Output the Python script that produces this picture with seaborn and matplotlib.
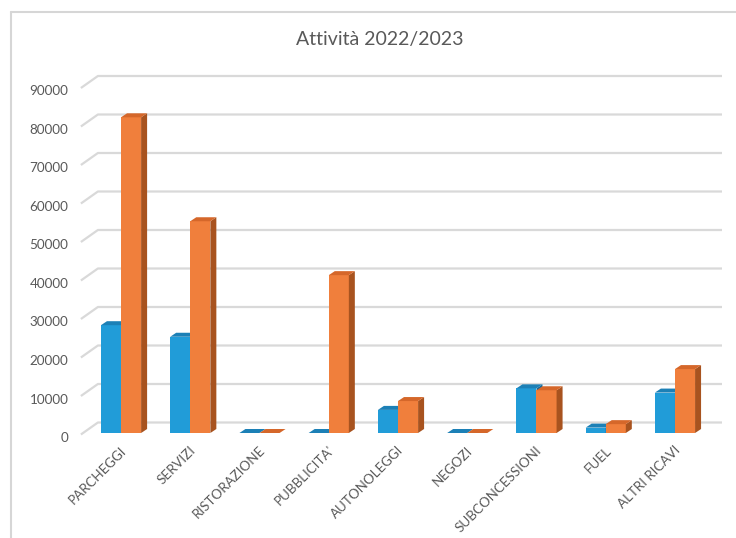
import matplotlib
matplotlib.use("Agg")
import matplotlib.pyplot as plt
from matplotlib.patches import Polygon
from matplotlib.lines import Line2D
from matplotlib.transforms import ScaledTranslation
import seaborn as sns
import pandas as pd

# Revenue by activity, two seasons
categories = ["PARCHEGGI", "SERVIZI", "RISTORAZIONE", "PUBBLICITA'", "AUTONOLEGGI",
              "NEGOZI", "SUBCONCESSIONI", "FUEL", "ALTRI RICAVI"]
series_names = ["2022", "2023"]
values_2022 = [28000, 25000, 0, 0, 6000, 0, 11600, 1400, 10500]
values_2023 = [82000, 55000, 0, 41000, 8300, 0, 11100, 2300, 16600]
y_ticks = [0, 10000, 20000, 30000, 40000, 50000, 60000, 70000, 80000, 90000]
title = "Attività 2022/2023"

front_colors = ["#219cd8", "#f07f3c"]
top_colors = ["#1c80b6", "#d5672a"]
side_colors = ["#17699a", "#a8531f"]
text_color = "#595959"
grid_color = "#d9d9d9"

df = pd.DataFrame({
    "categoria": categories * 2,
    "anno": [series_names[0]] * len(categories) + [series_names[1]] * len(categories),
    "valore": values_2022 + values_2023,
})

sns.set_theme(style="white")
plt.rcParams["font.family"] = ["Lato", "DejaVu Sans"]

W, H, DPI = 736, 538, 100
fig = plt.figure(figsize=(W / DPI, H / DPI), dpi=DPI)
ax_left, ax_bottom, ax_w, ax_h = 86.4 / W, (H - 433) / H, 623.2 / W, 346.5 / H
ax = fig.add_axes([ax_left, ax_bottom, ax_w, ax_h])

sns.barplot(data=df, x="categoria", y="valore", hue="anno", order=categories,
            hue_order=series_names, palette=front_colors, width=0.58, gap=0,
            saturation=1, legend=False, ax=ax)

ax.set_xlim(-0.5, len(categories) - 0.5)
ax.set_ylim(0, 90000)

# pixel -> data unit conversions
px_x = len(categories) / (ax_w * W)
px_y = 90000 / (ax_h * H)

# 3D bar depth (pixels)
bdx, bdy = 6 * px_x, 4 * px_y
for i, bar_container in enumerate(ax.containers):
    for p in bar_container:
        x0 = p.get_x()
        x1 = x0 + p.get_width()
        h = p.get_height()
        z = 3 + i
        p.set_zorder(z)
        p.set_edgecolor("none")
        top = Polygon([(x0, h), (x1, h), (x1 + bdx, h + bdy), (x0 + bdx, h + bdy)],
                      closed=True, facecolor=top_colors[i], edgecolor="none", zorder=z)
        side = Polygon([(x1, 0), (x1, h), (x1 + bdx, h + bdy), (x1 + bdx, bdy)],
                       closed=True, facecolor=side_colors[i], edgecolor="none", zorder=z)
        ax.add_patch(side)
        ax.add_patch(top)

# back wall gridlines with slanted floor/side connector
gdx, gdy = 17 * px_x, 10.5 * px_y
x_front = -0.5 - 5.5 * px_x
x_end = -0.5 + (722 - 86.4) * px_x
for v in y_ticks:
    ax.add_line(Line2D([x_front, x_front + gdx, x_end], [v - 1.5 * px_y, v + gdy, v + gdy],
                       color=grid_color, lw=1.6, zorder=1, clip_on=False,
                       solid_capstyle="butt"))

ax.set_yticks(y_ticks)
ax.set_yticklabels([str(t) for t in y_ticks])
ax.tick_params(axis="y", length=0, pad=13, labelsize=9.7, labelcolor=text_color)
ax.tick_params(axis="x", length=0, pad=13, labelsize=9.6, labelcolor=text_color)
ax.set_xticks(range(len(categories)))
ax.set_xticklabels(categories, rotation=45, ha="right", va="top", rotation_mode="anchor")
shift_x = ScaledTranslation(-1 / DPI, 7 / DPI, fig.dpi_scale_trans)
for lbl in ax.get_xticklabels():
    lbl.set_transform(lbl.get_transform() + shift_x)
shift_y = ScaledTranslation(0, -4 / DPI, fig.dpi_scale_trans)
for lbl in ax.get_yticklabels():
    lbl.set_transform(lbl.get_transform() + shift_y)
ax.set_xlabel("")
ax.set_ylabel("")
for s in ax.spines.values():
    s.set_visible(False)
ax.patch.set_alpha(0)

fig.text(380 / W, 1 - 40 / H, title, ha="center", va="center", fontsize=14,
         color=text_color)

# chart frame
fig.add_artist(Line2D([11 / W, 11 / W], [0, 1 - 12 / H], transform=fig.transFigure,
                      color="#d6d6d6", lw=1.5))
fig.add_artist(Line2D([11 / W, 1], [1 - 12 / H, 1 - 12 / H], transform=fig.transFigure,
                      color="#d6d6d6", lw=1.5))

fig.savefig("out.png", dpi=DPI)
